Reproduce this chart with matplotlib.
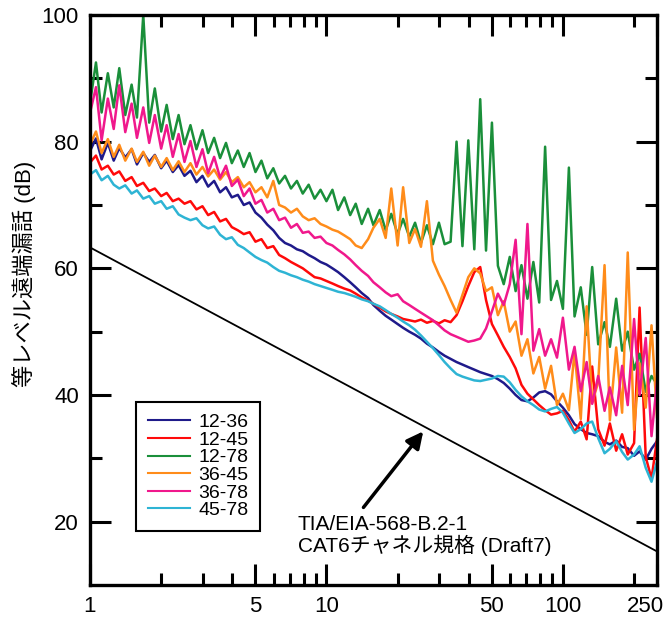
import matplotlib
matplotlib.use('Agg')
import matplotlib.pyplot as plt
from matplotlib.ticker import NullFormatter
from matplotlib.transforms import ScaledTranslation

plt.rcParams['font.family'] = ['Liberation Sans', 'Noto Sans CJK JP']

# 周波数 (MHz)
freq = [1.00, 1.06, 1.12, 1.19, 1.26, 1.33, 1.41, 1.50, 1.58, 1.68,
        1.78, 1.88, 2.00, 2.11, 2.24, 2.37, 2.51, 2.66, 2.82, 2.99,
        3.16, 3.35, 3.55, 3.76, 3.98, 4.22, 4.47, 4.73, 5.01, 5.31,
        5.62, 5.96, 6.31, 6.68, 7.08, 7.50, 7.94, 8.41, 8.91, 9.44,
        10.0, 10.6, 11.2, 11.9, 12.6, 13.3, 14.1, 15.0, 15.8, 16.8,
        17.8, 18.8, 20.0, 21.1, 22.4, 23.7, 25.1, 26.6, 28.2, 29.9,
        31.6, 33.5, 35.5, 37.6, 39.8, 42.2, 44.7, 47.3, 50.1, 53.1,
        56.2, 59.6, 63.1, 66.8, 70.8, 75.0, 79.4, 84.1, 89.1, 94.4,
        100, 106, 112, 119, 126, 133, 141, 150, 158, 168,
        178, 188, 200, 211, 224, 237, 250]

p12_36 = [78.5, 80.5, 77.2, 79.8, 77.0, 79.0, 77.5, 78.8, 76.4, 78.2,
          76.8, 77.9, 75.8, 77.0, 75.2, 76.3, 74.6, 75.4, 73.6, 74.6,
          72.9, 73.8, 72.0, 72.8, 71.2, 71.6, 70.0, 70.4, 68.8, 68.0,
          66.9, 66.0, 64.8, 64.0, 63.6, 63.0, 62.7, 62.1, 61.6, 61.0,
          60.6, 60.0, 59.4, 58.6, 57.8, 57.0, 56.1, 55.3, 54.2, 53.3,
          52.5, 51.9, 51.2, 50.6, 50.0, 49.5, 48.9, 48.1, 47.5, 46.8,
          46.2, 45.7, 45.2, 44.8, 44.4, 44.0, 43.6, 43.3, 43.0, 42.5,
          41.9, 41.0, 40.0, 39.2, 39.0, 39.6, 40.4, 40.6, 40.1, 39.0,
          38.0, 36.8, 35.4, 34.6, 34.0, 33.8, 33.5, 32.6, 32.2, 32.8,
          31.8, 31.6, 30.4, 31.1, 29.8, 31.5, 32.7]

p12_45 = [76.7, 77.8, 75.6, 76.2, 74.8, 75.3, 73.8, 74.4, 73.0, 73.5,
          72.2, 72.6, 71.4, 71.9, 70.6, 71.0, 70.2, 70.6, 69.3, 69.8,
          68.4, 68.9, 67.4, 67.8, 66.5, 66.0, 65.4, 65.7, 64.2, 64.6,
          63.2, 63.5, 62.1, 61.6, 61.0, 60.5, 60.0, 59.3, 58.6, 58.4,
          58.0, 57.6, 57.2, 56.8, 56.5, 56.0, 55.4, 54.9, 54.4, 53.8,
          53.2, 52.8, 52.4, 52.0, 51.8, 51.6, 51.9, 51.4, 51.7, 51.3,
          51.8, 51.5, 52.6, 54.8, 57.2, 59.4, 60.2, 55.0, 51.2, 49.4,
          47.6, 46.0, 44.2, 41.6, 40.2, 39.3, 38.4, 37.6, 36.9, 37.1,
          37.5, 36.0, 34.2, 35.8, 33.0, 44.5, 34.6, 32.0, 35.5, 31.2,
          33.8, 30.6, 32.4, 53.8, 30.2, 26.8, 33.0]

p12_78 = [86.0, 92.5, 84.6, 90.8, 85.4, 91.6, 84.2, 89.0, 83.8, 100.0,
          83.0, 88.4, 81.6, 85.8, 80.4, 84.2, 79.6, 82.6, 78.8, 81.8,
          78.2, 80.6, 77.4, 79.8, 76.6, 78.6, 76.0, 78.2, 75.2, 77.0,
          74.2, 75.8, 73.4, 74.6, 72.6, 73.8, 71.8, 73.2, 71.0, 72.4,
          70.6, 72.4, 69.2, 71.2, 68.4, 70.2, 67.0, 69.4, 66.8, 69.2,
          66.0, 68.6, 65.4, 67.8, 65.0, 67.2, 64.0, 66.8, 63.8, 67.2,
          63.8, 64.2, 80.0, 63.5, 80.2, 63.0, 86.7, 62.8, 83.0, 60.4,
          57.5, 61.8, 56.4, 60.5, 55.2, 61.0, 54.6, 79.2, 55.0, 58.0,
          53.6, 75.9, 52.4, 57.0, 49.5, 60.2, 48.0, 51.5, 47.6, 55.2,
          47.0, 50.0, 44.0, 46.5, 40.5, 43.0, 41.7]

p36_45 = [79.5, 81.6, 78.2, 80.4, 77.6, 79.5, 77.0, 78.9, 76.8, 78.4,
          76.2, 77.8, 76.0, 77.4, 75.5, 76.9, 75.2, 76.6, 74.8, 76.0,
          74.5, 75.6, 74.0, 75.2, 73.6, 74.4, 72.8, 73.6, 72.0, 72.8,
          71.2, 73.8, 70.0, 69.6, 68.8, 69.4, 68.2, 67.6, 67.9, 67.0,
          66.6, 66.1, 65.8, 65.2, 64.6, 63.6, 63.2, 64.6, 66.4, 67.8,
          64.8, 72.6, 63.6, 72.8, 64.0, 66.2, 63.4, 70.6, 61.2, 59.0,
          57.2, 55.0, 53.0, 55.8, 58.6, 60.0, 59.2, 56.4, 57.0, 52.6,
          54.8, 50.0, 51.6, 46.2, 48.8, 43.4, 46.0, 41.0, 44.6, 38.4,
          40.2, 37.6, 46.8, 36.2, 54.0, 38.8, 42.0, 60.5, 36.0, 47.5,
          37.2, 62.5, 34.5, 45.0, 38.0, 51.0, 36.5]

p36_78 = [84.5, 88.6, 80.2, 86.8, 82.0, 88.9, 81.5, 86.0, 80.6, 85.4,
          79.8, 84.2, 78.9, 82.6, 77.6, 81.2, 76.8, 80.1, 76.0, 78.8,
          75.0, 77.6, 74.3, 76.2, 73.0, 74.0, 71.4, 72.6, 70.2, 70.8,
          68.8, 69.4, 67.6, 68.0, 66.4, 67.0, 65.6, 65.8, 64.8, 65.0,
          64.0, 63.6, 62.9, 62.2, 61.4, 60.5, 59.6, 58.8, 57.8, 57.0,
          56.2, 55.6, 55.9, 54.8, 54.2, 53.6, 53.0, 52.4, 51.8, 51.0,
          50.2, 49.6, 49.2, 48.8, 48.4, 48.6, 48.9, 50.5, 53.2, 56.0,
          54.2, 57.5, 64.5, 49.6, 67.0, 47.0, 50.4, 46.2, 48.8, 45.9,
          52.2, 44.0, 47.6, 40.6, 45.2, 38.6, 43.0, 37.5, 41.2, 36.8,
          44.6, 38.4, 52.0, 40.0, 49.0, 33.5, 42.0]

p45_78 = [74.8, 75.5, 73.9, 74.6, 73.2, 72.6, 73.1, 71.8, 72.3, 71.0,
          71.4, 70.2, 70.6, 69.4, 69.8, 68.5, 68.0, 67.6, 67.9, 66.8,
          66.3, 66.6, 65.3, 64.6, 64.9, 63.7, 63.2, 62.5, 61.8, 61.3,
          60.9, 60.2, 59.6, 59.3, 58.9, 58.6, 58.2, 57.9, 57.5, 57.2,
          56.9, 56.6, 56.3, 56.1, 55.8, 55.5, 55.1, 54.8, 54.4, 54.0,
          53.4, 52.8, 52.2, 51.6, 51.0, 50.3, 49.4, 48.4, 47.4, 46.3,
          45.2, 44.2, 43.3, 42.9, 42.6, 42.3, 42.2, 42.4, 42.6, 43.0,
          42.9, 42.0, 40.8, 39.8, 39.0, 38.4, 37.7, 37.4, 37.8, 38.1,
          37.2, 35.5, 34.0, 34.6, 35.5, 35.8, 33.2, 30.8, 31.5, 32.7,
          31.0, 29.8, 30.6, 31.9, 28.5, 26.3, 29.5]

# CAT6 チャネル規格線 (両端)
limit_freq = [1, 250]
limit_db = [63.3, 15.3]

labels = ['12-36', '12-45', '12-78', '36-45', '36-78', '45-78']
colors = ['#1f1a8a', '#ff0a0a', '#1a8f3a', '#ff8c1a', '#f0188c', '#2eb4d4']
data = [p12_36, p12_45, p12_78, p36_45, p36_78, p45_78]

fig = plt.figure(figsize=(6.7, 6.21), dpi=100)
ax = fig.add_axes([0.1343, 0.058, 0.8463, 0.9179])

for lab, vals, col in zip(labels, data, colors):
    ax.plot(freq, vals, color=col, lw=1.8, label=lab)

ax.plot(limit_freq, limit_db, color='k', lw=1.3)

ax.set_xscale('log')
ax.set_xlim(1, 250)
ax.set_ylim(10, 100)

ax.set_xticks([1, 5, 10, 50, 100, 250])
ax.set_xticklabels(['1', '5', '10', '50', '100', '250'])
ax.set_xticks([2, 3, 4, 6, 7, 8, 9, 20, 30, 40, 60, 70, 80, 90, 200], minor=True)
ax.xaxis.set_minor_formatter(NullFormatter())
ax.set_yticks([20, 40, 60, 80, 100])
ax.set_yticks([30, 50, 70, 90], minor=True)

ax.tick_params(which='both', direction='in', top=True, right=True,
               width=2.2, labelsize=16, pad=8)
ax.tick_params(which='major', length=15)
ax.tick_params(which='minor', length=8.5)
for sp in ax.spines.values():
    sp.set_linewidth(2.4)

# 250 のラベルを少し左へ
lbl = ax.get_xticklabels()[-1]
lbl.set_transform(lbl.get_transform() + ScaledTranslation(-0.12, 0, fig.dpi_scale_trans))

ax.set_ylabel('等レベル遠端漏話 (dB)', fontsize=16)
ax.yaxis.set_label_coords(-0.095, 0.545)

# 凡例
leg = ax.legend(loc='lower left', bbox_to_anchor=(0.081, 0.095), fontsize=14,
                fancybox=False, edgecolor='k', framealpha=1, handlelength=2.2,
                labelspacing=0.0, borderpad=0.6, borderaxespad=0, handletextpad=0.4)
leg.get_frame().set_linewidth(1.5)
for h in leg.get_lines():
    h.set_linewidth(1.5)

ax.annotate('', xy=(26.1, 34.6), xytext=(14.1, 21.9),
            arrowprops=dict(arrowstyle='-|>', lw=2.5, color='k', mutation_scale=25))
ax.text(7.58, 17.8, 'TIA/EIA-568-B.2-1\nCAT6チャネル規格 (Draft7)', fontsize=15,
        ha='left', va='center', linespacing=1.0)

fig.savefig('out.png', dpi=100)
